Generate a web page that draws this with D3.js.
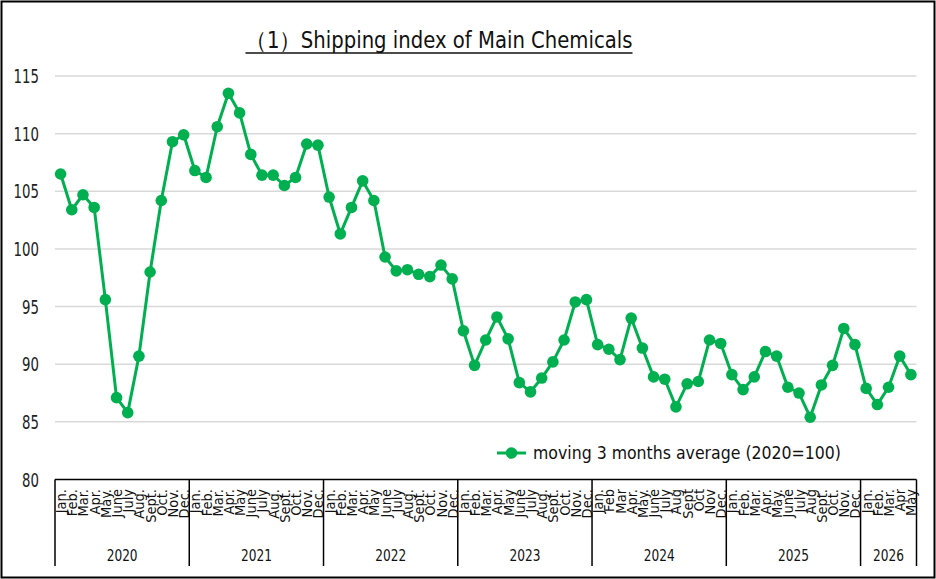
<!DOCTYPE html>
<html>
<head>
<meta charset="utf-8">
<script src="https://cdn.jsdelivr.net/npm/d3@7"></script>
<style>
  html, body { margin: 0; padding: 0; background: #fff; }
  svg { display: block; font-family: "DejaVu Sans Condensed", "Liberation Sans Narrow", sans-serif; }
</style>
</head>
<body>
<div id="chart"></div>
<script>
// 出荷指数（3ヶ月移動平均）
const years = ['2020', '2021', '2022', '2023', '2024', '2025', '2026'];
const monthLabels = [
    'Jan.', 'Feb.', 'Mar.', 'Apr.', 'May.', 'June', 'July', 'Aug.', 'Sept.', 'Oct.', 'Nov.', 'Dec.',
    'Jan.', 'Feb.', 'Mar.', 'Apr.', 'May', 'June', 'July', 'Aug.', 'Sept.', 'Oct.', 'Nov.', 'Dec.',
    'Jan.', 'Feb.', 'Mar.', 'Apr.', 'May', 'June', 'July', 'Aug.', 'Sept.', 'Oct.', 'Nov.', 'Dec.',
    'Jan.', 'Feb.', 'Mar.', 'Apr.', 'May', 'June', 'July', 'Aug.', 'Sept.', 'Oct.', 'Nov.', 'Dec.',
    'Jan.', 'Feb', 'Mar', 'Apr.', 'May.', 'June', 'July', 'Aug', 'Sept', 'Oct', 'Nov', 'Dec.',
    'Jan.', 'Feb.', 'Mar.', 'Apr.', 'May.', 'June', 'July', 'Aug', 'Sept.', 'Oct.', 'Nov.', 'Dec.',
    'Jan.', 'Feb.', 'Mar.', 'Apr', 'May'
];
const monthsPerYear = [12, 12, 12, 12, 12, 12, 5];
const values = [
    106.5, 103.4, 104.7, 103.6, 95.6, 87.1, 85.8, 90.7, 98.0, 104.2, 109.3, 109.9,
    106.8, 106.2, 110.6, 113.5, 111.8, 108.2, 106.4, 106.4, 105.5, 106.2, 109.1, 109.0,
    104.5, 101.3, 103.6, 105.9, 104.2, 99.3, 98.1, 98.2, 97.8, 97.6, 98.6, 97.4,
    92.9, 89.9, 92.1, 94.1, 92.2, 88.4, 87.6, 88.8, 90.2, 92.1, 95.4, 95.6,
    91.7, 91.3, 90.4, 94.0, 91.4, 88.9, 88.7, 86.3, 88.3, 88.5, 92.1, 91.8,
    89.1, 87.8, 88.9, 91.1, 90.7, 88.0, 87.5, 85.4, 88.2, 89.9, 93.1, 91.7,
    87.9, 86.5, 88.0, 90.7, 89.1
];
const yTicks = [80, 85, 90, 95, 100, 105, 110, 115];
const seriesName = 'moving 3 months average (2020=100)';
const titleText = '（1）Shipping index of Main Chemicals';

const W = 936, H = 579;
const plot = { left: 55, right: 916.5, top: 76, bottom: 479.5 };
const green = '#00b050';

const svg = d3.select('#chart').append('svg')
    .attr('width', W).attr('height', H);

// 外枠
svg.append('rect')
    .attr('x', 1.5).attr('y', 1.5)
    .attr('width', W - 3).attr('height', H - 3)
    .attr('fill', '#fff').attr('stroke', '#000').attr('stroke-width', 2);

const idx = d3.range(values.length);
const x = d3.scaleBand().domain(idx).range([plot.left, plot.right]);
const y = d3.scaleLinear().domain([80, 115]).range([plot.bottom, plot.top]);
const cx = i => x(i) + x.bandwidth() / 2;

// グリッド線
svg.append('g')
    .selectAll('line')
    .data(yTicks.filter(t => t > 80))
    .join('line')
    .attr('x1', plot.left).attr('x2', plot.right)
    .attr('y1', d => y(d)).attr('y2', d => y(d))
    .attr('stroke', '#d9d9d9').attr('stroke-width', 1.5);

// Y軸ラベル（細長い字形に合わせて横方向を圧縮）
svg.append('g')
    .selectAll('text')
    .data(yTicks)
    .join('text')
    .attr('transform', d => `translate(39,${y(d)}) scale(0.74,1)`)
    .attr('dy', '0.36em')
    .attr('text-anchor', 'end')
    .attr('font-size', '20px')
    .attr('fill', '#222')
    .text(d => d);

// X軸（横線）
svg.append('line')
    .attr('x1', plot.left).attr('x2', plot.right)
    .attr('y1', plot.bottom).attr('y2', plot.bottom)
    .attr('stroke', '#000').attr('stroke-width', 1.5);

// 年の区切り線
const bounds = [0];
monthsPerYear.forEach(n => bounds.push(bounds[bounds.length - 1] + n));
const bx = b => b < values.length ? x(b) : plot.right;
svg.append('g')
    .selectAll('line')
    .data(bounds)
    .join('line')
    .attr('x1', bx).attr('x2', bx)
    .attr('y1', plot.bottom).attr('y2', 566)
    .attr('stroke', '#000').attr('stroke-width', 1.5);

// 月ラベル（縦書き）
svg.append('g')
    .selectAll('text')
    .data(monthLabels)
    .join('text')
    .attr('transform', (d, i) => `translate(${cx(i)},489) rotate(-90)`)
    .attr('dy', '0.38em')
    .attr('text-anchor', 'end')
    .attr('font-size', '14.5px')
    .attr('fill', '#111')
    .text(d => d);

// 年ラベル
svg.append('g')
    .selectAll('text')
    .data(years)
    .join('text')
    .attr('transform', (d, i) => `translate(${(bx(bounds[i]) + bx(bounds[i + 1])) / 2},561) scale(0.82,1)`)
    .attr('text-anchor', 'middle')
    .attr('font-size', '16.5px')
    .attr('fill', '#111')
    .text(d => d);

// 折れ線
svg.append('path')
    .datum(values)
    .attr('fill', 'none')
    .attr('stroke', green)
    .attr('stroke-width', 3)
    .attr('stroke-linejoin', 'round')
    .attr('d', d3.line().x((d, i) => cx(i)).y(d => y(d)));

svg.append('g')
    .selectAll('circle')
    .data(values)
    .join('circle')
    .attr('cx', (d, i) => cx(i))
    .attr('cy', d => y(d))
    .attr('r', 5.8)
    .attr('fill', green);

// タイトル
const title = svg.append('text')
    .attr('transform', 'translate(439,48) scale(0.95,1)')
    .attr('text-anchor', 'middle')
    .attr('font-size', '23px')
    .attr('fill', '#111')
    .text(titleText);
const tw = title.node().getComputedTextLength() * 0.95;
svg.append('line')
    .attr('x1', 439 - tw / 2).attr('x2', 439 + tw / 2)
    .attr('y1', 53).attr('y2', 53)
    .attr('stroke', '#111').attr('stroke-width', 1.3);

// 凡例
const lg = svg.append('g');
lg.append('line')
    .attr('x1', 497).attr('x2', 526)
    .attr('y1', 453).attr('y2', 453)
    .attr('stroke', green).attr('stroke-width', 3);
lg.append('circle')
    .attr('cx', 511.5).attr('cy', 453).attr('r', 5.8)
    .attr('fill', green);
lg.append('text')
    .attr('x', 533).attr('y', 453)
    .attr('dy', '0.35em')
    .attr('font-size', '17.5px')
    .attr('fill', '#111')
    .text(seriesName);
</script>
</body>
</html>
